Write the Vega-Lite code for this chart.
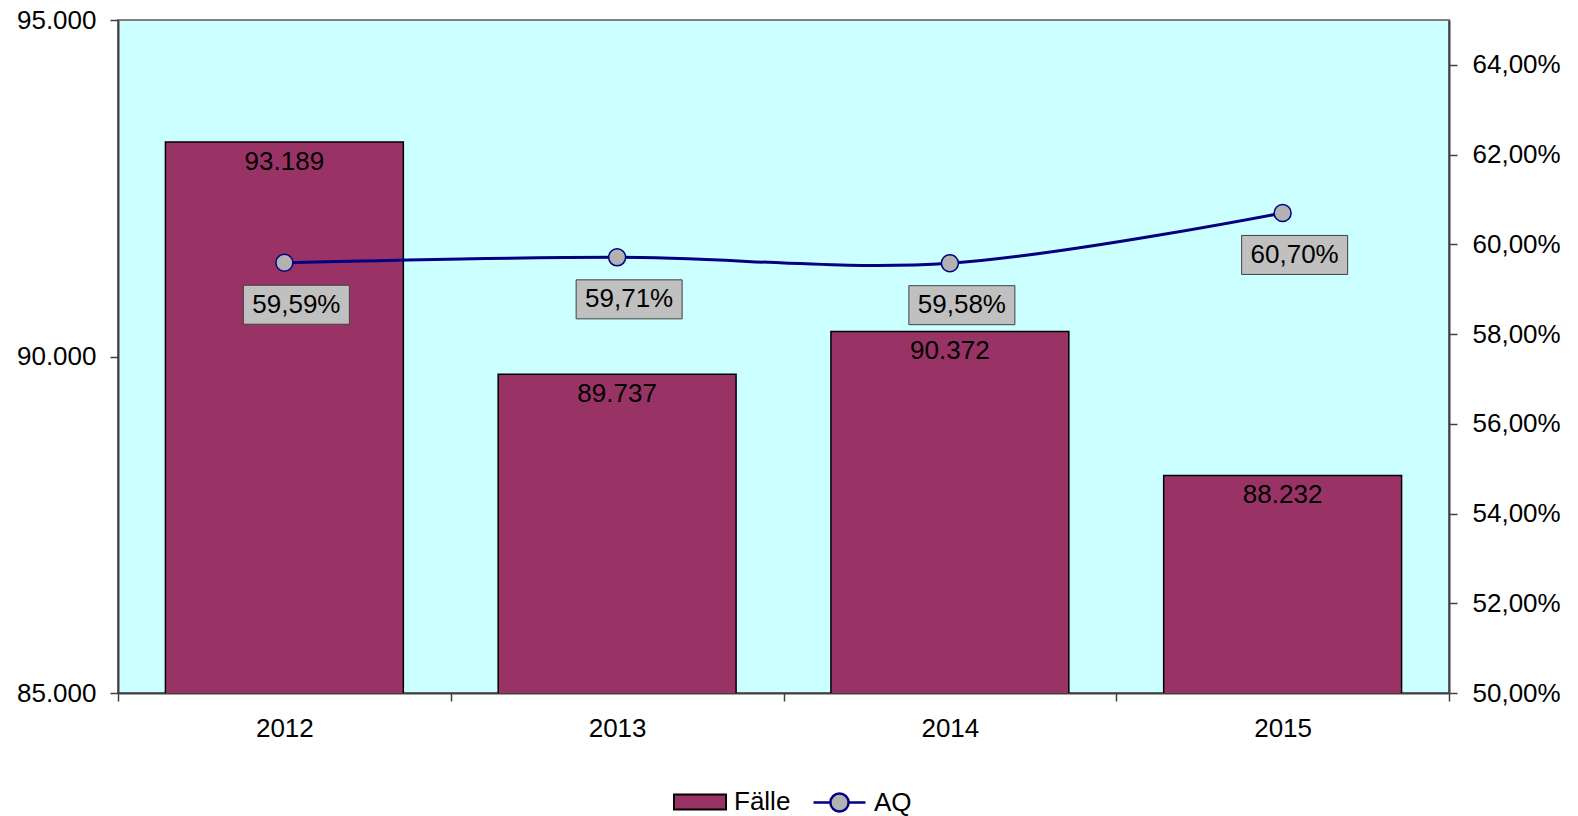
{
  "$schema": "https://vega.github.io/schema/vega-lite/v6.json",
  "width": 1331,
  "height": 673,
  "autosize": "none",
  "padding": {"left": 118, "top": 20, "right": 129, "bottom": 123},
  "background": "white",
  "config": {
    "locale": {"number": {"decimal": ",", "thousands": ".", "grouping": [3], "currency": ["", " €"]}},
    "font": "Liberation Sans",
    "view": {"fill": "#CCFFFF", "stroke": "#808080", "strokeWidth": 2},
    "axis": {
      "labelFont": "Liberation Sans",
      "labelFontSize": 26,
      "labelColor": "black",
      "domainColor": "#404040",
      "domainWidth": 2,
      "tickColor": "#404040",
      "tickWidth": 1.5,
      "tickSize": 8,
      "grid": false,
      "title": null
    },
    "legend": {
      "title": null,
      "orient": "none",
      "direction": "horizontal",
      "padding": 0,
      "symbolSize": 2704,
      "labelFontSize": 26,
      "labelFont": "Liberation Sans",
      "labelColor": "black",
      "labelOffset": 7
    }
  },
  "data": {
    "values": [
      {"year": "2012", "Faelle": 93189, "AQ": 0.5959},
      {"year": "2013", "Faelle": 89737, "AQ": 0.5971},
      {"year": "2014", "Faelle": 90372, "AQ": 0.5958},
      {"year": "2015", "Faelle": 88232, "AQ": 0.6070}
    ]
  },
  "encoding": {
    "x": {
      "field": "year",
      "type": "nominal",
      "sort": null,
      "scale": {"paddingInner": 0, "paddingOuter": 0},
      "axis": {"labelAngle": 0, "tickBand": "extent", "labelPadding": 14}
    }
  },
  "layer": [
    {
      "encoding": {
        "y": {
          "field": "Faelle",
          "type": "quantitative",
          "scale": {"domain": [85000, 95000], "zero": false, "nice": false},
          "axis": {"orient": "left", "values": [85000, 90000, 95000], "format": ",.0f", "labelPadding": 14}
        }
      },
      "layer": [
        {
          "mark": {"type": "bar", "width": {"band": 0.715}, "stroke": "black", "strokeWidth": 1.5, "clip": true},
          "encoding": {
            "fill": {
              "datum": "Fälle",
              "type": "nominal",
              "scale": {"domain": ["Fälle"], "range": ["#993366"]},
              "legend": {
                "legendX": 555,
                "legendY": 755,
                "symbolType": "M-1,-0.29H1V0.29H-1Z",
                "symbolFillColor": "#993366",
                "symbolStrokeColor": "black",
                "symbolStrokeWidth": 2,
                "symbolOpacity": 1
              }
            }
          }
        },
        {
          "mark": {"type": "text", "baseline": "middle", "dy": 20, "fontSize": 26, "color": "black", "font": "Liberation Sans"},
          "encoding": {"text": {"field": "Faelle", "type": "quantitative", "format": ",.0f"}}
        }
      ]
    },
    {
      "encoding": {
        "y": {
          "field": "AQ",
          "type": "quantitative",
          "scale": {"domain": [0.5, 0.65], "zero": false, "nice": false},
          "axis": {"orient": "right", "values": [0.5, 0.52, 0.54, 0.56, 0.58, 0.6, 0.62, 0.64], "format": ".2%", "labelPadding": 15}
        }
      },
      "layer": [
        {
          "mark": {"type": "line", "interpolate": "catmull-rom", "strokeWidth": 3},
          "encoding": {
            "stroke": {
              "datum": "AQ",
              "type": "nominal",
              "scale": {"domain": ["AQ"], "range": ["#000080"]},
              "legend": {
                "legendX": 694,
                "legendY": 755,
                "symbolType": "M-1,0H-0.35A0.35,0.35 0 1,1 0.35,0A0.35,0.35 0 1,1 -0.35,0M0.35,0H1",
                "symbolFillColor": "#B2B2B2",
                "symbolStrokeColor": "#000080",
                "symbolStrokeWidth": 2.5,
                "symbolOpacity": 1
              }
            }
          }
        },
        {
          "mark": {"type": "point", "shape": "circle", "filled": true, "fill": "#B2B2B2", "stroke": "#000080", "strokeWidth": 1.5, "size": 290, "opacity": 1}
        },
        {
          "mark": {"type": "point", "shape": "M-1,-0.368H1V0.368H-1Z", "size": 11236, "filled": true, "fill": "#C0C0C0", "stroke": "#404040", "strokeWidth": 1, "xOffset": 12, "yOffset": 42, "opacity": 1}
        },
        {
          "mark": {"type": "text", "fontSize": 26, "xOffset": 12, "yOffset": 42, "baseline": "middle", "color": "black", "font": "Liberation Sans"},
          "encoding": {"text": {"field": "AQ", "type": "quantitative", "format": ".2%"}}
        }
      ]
    }
  ],
  "resolve": {"scale": {"y": "independent"}}
}
